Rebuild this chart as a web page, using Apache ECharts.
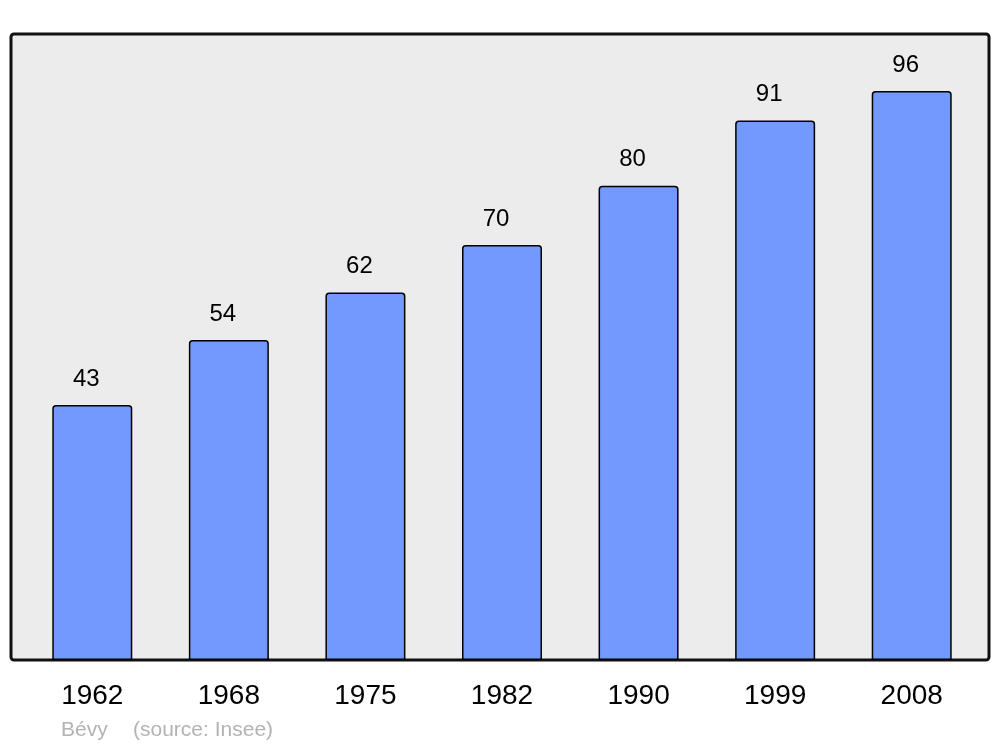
<!DOCTYPE html>
<html><head><meta charset="utf-8">
<script src="https://cdn.jsdelivr.net/npm/echarts@6/dist/echarts.min.js"></script>
<style>html,body{margin:0;padding:0;background:#fff}#c{width:1000px;height:747px}</style>
</head><body><div id="c"></div>
<script>
const years = ['1962','1968','1975','1982','1990','1999','2008'];
const population = [43, 54, 62, 70, 80, 91, 96];
const commune = 'Bévy';
const sourceText = '(source: Insee)';

const chart = echarts.init(document.getElementById('c'), null, {renderer: 'canvas'});
const font = '"Liberation Sans", Arial, sans-serif';
chart.setOption({
  animation: false,
  backgroundColor: '#ffffff',
  graphic: [
    {type: 'rect', z: -10, shape: {x: 11, y: 34, width: 978, height: 626, r: 3},
     style: {fill: '#ececec', stroke: '#111111', lineWidth: 3}},
    {type: 'text', left: 61, top: 720, style: {text: commune, fill: '#b3b3b3', font: '21px ' + font}},
    {type: 'text', left: 133, top: 720, style: {text: sourceText, fill: '#b3b3b3', font: '21px ' + font}}
  ],
  grid: {left: 24, right: 20, top: 34, bottom: 87, containLabel: false},
  xAxis: {
    type: 'category', data: years,
    axisLine: {show: false}, axisTick: {show: false},
    axisLabel: {color: '#000', fontSize: 28, fontFamily: font, margin: 22}
  },
  yAxis: {
    type: 'value', min: 0, max: 105.6,
    show: false, splitLine: {show: false}
  },
  series: [{
    type: 'bar', data: population, barWidth: 80,
    itemStyle: {color: '#7399ff', borderColor: '#000', borderWidth: 1.5, borderRadius: [3,3,0,0]},
    label: {show: true, position: 'top', distance: 14, offset: [-6, 0], color: '#000', fontSize: 24, fontFamily: font}
  }]
});
</script></body></html>
